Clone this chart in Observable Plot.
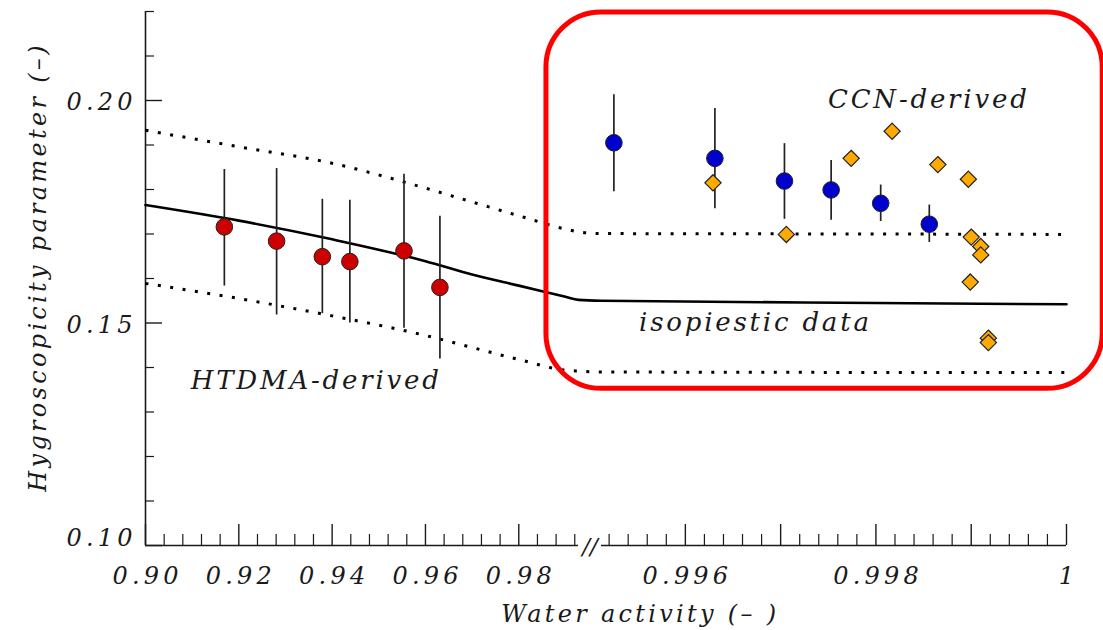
<!DOCTYPE html>
<html>
<head>
<meta charset="utf-8">
<script src="https://cdn.jsdelivr.net/npm/d3@7"></script>
<script src="https://cdn.jsdelivr.net/npm/@observablehq/plot@0.6"></script>
<style>
  html, body { margin: 0; padding: 0; background: #fff; }
</style>
</head>
<body>
<div id="chart"></div>
<script>
// ---------- data ----------
// HTDMA-derived (red circles with error bars)
const htdmaX  = [0.9169, 0.9281, 0.9379, 0.9438, 0.9554, 0.9631];
const htdmaY  = [0.1716, 0.1684, 0.1649, 0.1638, 0.1662, 0.1580];
const htdmaLo = [0.1583, 0.1518, 0.1521, 0.1500, 0.1488, 0.1419];
const htdmaHi = [0.1845, 0.1847, 0.1778, 0.1776, 0.1834, 0.1740];

// blue circles with error bars
const blueX  = [0.99525, 0.99631, 0.99704, 0.99753, 0.99805, 0.99856];
const blueY  = [0.1905, 0.1870, 0.1819, 0.1799, 0.1769, 0.1722];
const blueLo = [0.1795, 0.1757, 0.1733, 0.1731, 0.1728, 0.1681];
const blueHi = [0.2013, 0.1982, 0.1903, 0.1865, 0.1810, 0.1765];

// CCN-derived (orange diamonds)
const ccnX = [0.99629, 0.99706, 0.99774, 0.99817, 0.99865, 0.99897, 0.99900, 0.99910, 0.99910, 0.99899, 0.99918, 0.99918];
const ccnY = [0.1815, 0.1699, 0.1870, 0.1931, 0.1856, 0.1823, 0.1693, 0.1672, 0.1653, 0.1592, 0.1466, 0.1456];

// isopiestic curve and its bounds
const curveX = [0.90, 0.92, 0.94, 0.96, 0.97, 0.98, 0.99, 0.9928, 0.99512, 0.998, 1.0];
const isoY   = [0.1765, 0.1730, 0.1688, 0.1639, 0.1609, 0.1584, 0.1559, 0.1552, 0.1550, 0.1545, 0.1542];
const upperY = [0.1933, 0.1896, 0.1859, 0.1803, 0.1772, 0.1741, 0.1711, 0.1705, 0.1701, 0.1700, 0.1699];
const lowerY = [0.1589, 0.1555, 0.1516, 0.1472, 0.1445, 0.1418, 0.1394, 0.1392, 0.1390, 0.1389, 0.1389];

// broken x axis: left segment end, right segment start
const xBreak = [0.9928, 0.99512];
const xDomain = [0.90, 1.0];
const yDomain = [0.10, 0.22];

// ticks
const xMajorLeft  = [0.90, 0.92, 0.94, 0.96, 0.98];
const xLabelsLeft = ["0.90", "0.92", "0.94", "0.96", "0.98"];
const xMajorRight = [0.996, 0.997, 0.998, 0.999, 1.0];
const xLabelRightVals = [0.996, 0.998, 1.0];
const xLabelsRight = ["0.996", "0.998", "1"];
const yMajor = [0.10, 0.15, 0.20];
const yLabels = ["0.10", "0.15", "0.20"];

// annotation texts
const annotations = [
  {x: 0.93628, y: 0.13516, text: "HTDMA-derived"},
  {x: 0.99854, y: 0.19827, text: "CCN-derived"},
  {x: 0.99672, y: 0.14824, text: "isopiestic data"}
];
const xTitle = "Water activity (– )";
const yTitle = "Hygroscopicity parameter (–)";
const breakMark = "//";

// highlighted region (red rounded box)
const box = [{x1: 0.98593, x2: 1.00038, y1: 0.1352, y2: 0.2198}];

// ---------- derived tables ----------
const htdma = htdmaX.map((x, i) => ({x, y: htdmaY[i], lo: htdmaLo[i], hi: htdmaHi[i]}));
const blue = blueX.map((x, i) => ({x, y: blueY[i], lo: blueLo[i], hi: blueHi[i]}));
const ccn = ccnX.map((x, i) => ({x, y: ccnY[i]}));
const curves = curveX.map((x, i) => ({x, iso: isoY[i], up: upperY[i], low: lowerY[i]}));

const isMultiple = (v, start, step) => Math.abs((v - start) / step - Math.round((v - start) / step)) < 1e-6;
const xMinorLeft = d3.range(0, 24).map(i => 0.90 + i * 0.004).filter(v => v <= xBreak[0] && !isMultiple(v, 0.90, 0.02));
const xMinorRight = d3.range(1, 25).map(i => 0.9950 + i * 0.0002).filter(v => v >= xBreak[1] && v < 1.0 - 1e-9 && !isMultiple(v, 0.996, 0.001));
const yMinor = d3.range(1, 13).map(i => 0.10 + i * 0.01).filter(v => !isMultiple(v, 0.10, 0.05) || v > 0.215);

const xLabels = xMajorLeft.map((v, i) => ({v, t: xLabelsLeft[i]}))
  .concat(xLabelRightVals.map((v, i) => ({v, t: xLabelsRight[i]})));
const yLabs = yMajor.map((v, i) => ({v, t: yLabels[i]}));

// ---------- layout ----------
const W = 1103, H = 630;
const mL = 145, mR = 37, mT = 11, mB = 85;
const plotW = W - mL - mR, plotH = H - mT - mB;
const font = "DejaVu Serif";
const ink = "#1a1a1a";
const lsTick = 4.2, lsAnn = 2.8, lsTitle = 3.3;

const chart = Plot.plot({
  width: W, height: H,
  marginLeft: mL, marginRight: mR, marginTop: mT, marginBottom: mB,
  x: {type: "linear", domain: [xDomain[0], xBreak[0], xBreak[1], xDomain[1]],
      range: [mL, 578, 601, W - mR], axis: null},
  y: {domain: yDomain, axis: null},
  style: {background: "#fff", overflow: "visible"},
  marks: [
    // axis lines
    Plot.ruleX([xDomain[0]], {stroke: ink, strokeWidth: 1.6}),
    Plot.ruleY([yDomain[0]], {x1: xDomain[0], x2: xBreak[0], stroke: ink, strokeWidth: 1.6}),
    Plot.ruleY([yDomain[0]], {x1: xBreak[1], x2: xDomain[1], stroke: ink, strokeWidth: 1.6}),
    // x ticks (inward)
    Plot.ruleX(xMajorLeft.concat(xMajorRight), {x: d => d, insetTop: plotH - 21, stroke: ink, strokeWidth: 1.4}),
    Plot.ruleX(xMinorLeft.concat(xMinorRight), {x: d => d, insetTop: plotH - 11, stroke: ink, strokeWidth: 1.2}),
    // y ticks (inward)
    Plot.ruleY(yMajor, {y: d => d, insetRight: plotW - 17, stroke: ink, strokeWidth: 1.4}),
    Plot.ruleY(yMinor, {y: d => d, insetRight: plotW - 9, stroke: ink, strokeWidth: 1.2}),
    // axis break mark
    Plot.text([breakMark], {x: (xBreak[0] + xBreak[1]) / 2, frameAnchor: "bottom", text: d => d, dy: 1,
      fontFamily: font, fontStyle: "italic", fontSize: 23, lineAnchor: "middle", fill: ink}),
    // tick labels
    Plot.text(xLabels, {x: "v", text: "t", frameAnchor: "bottom", dy: 38, dx: lsTick / 2, lineAnchor: "bottom",
      fontFamily: font, fontStyle: "italic", fontSize: 24, fill: ink}),
    Plot.text(yLabs.filter(d => d.v > 0.1), {y: "v", text: "t", frameAnchor: "left", dx: -13 + lsTick, textAnchor: "end",
      lineAnchor: "middle", dy: 2, fontFamily: font, fontStyle: "italic", fontSize: 24, fill: ink}),
    Plot.text(yLabs.filter(d => d.v <= 0.1), {y: "v", text: "t", frameAnchor: "left", dx: -13 + lsTick, textAnchor: "end",
      lineAnchor: "bottom", dy: 0, fontFamily: font, fontStyle: "italic", fontSize: 24, fill: ink}),
    // axis titles
    Plot.text([xTitle], {x: 0.99551, frameAnchor: "bottom", dy: 76, dx: lsTitle / 2, lineAnchor: "bottom", text: d => d,
      fontFamily: font, fontStyle: "italic", fontSize: 24, fill: ink}),
    Plot.text([yTitle], {y: 0.1626, frameAnchor: "left", dx: -100, rotate: -90, textAnchor: "middle", lineAnchor: "bottom", text: d => d,
      fontFamily: font, fontStyle: "italic", fontSize: 24, fill: ink}),
    // curves
    Plot.line(curves, {x: "x", y: "up", curve: "monotone-x", stroke: "#000", strokeWidth: 3, strokeLinecap: "butt", strokeDasharray: "3 9.5"}),
    Plot.line(curves, {x: "x", y: "low", curve: "monotone-x", stroke: "#000", strokeWidth: 3, strokeLinecap: "butt", strokeDasharray: "3 9.5"}),
    Plot.line(curves, {x: "x", y: "iso", curve: "monotone-x", stroke: "#000", strokeWidth: 2.6}),
    // error bars
    Plot.ruleX(htdma, {x: "x", y1: "lo", y2: "hi", stroke: "#222", strokeWidth: 1.7}),
    Plot.ruleX(blue, {x: "x", y1: "lo", y2: "hi", stroke: "#222", strokeWidth: 1.7}),
    // points
    Plot.dot(htdma, {x: "x", y: "y", r: 8.3, fill: "#cc0000", stroke: "#222", strokeWidth: 1}),
    Plot.dot(blue, {x: "x", y: "y", r: 8.3, fill: "#0000cc", stroke: "#222", strokeWidth: 1}),
    Plot.dot(ccn, {x: "x", y: "y", symbol: "diamond2", r: 7.3, fill: "#ffaa00", stroke: "#222", strokeWidth: 1.2}),
    // annotations
    Plot.text(annotations, {x: "x", y: "y", text: "text", lineAnchor: "bottom", dx: lsAnn / 2,
      fontFamily: font, fontStyle: "italic", fontSize: 26, fill: ink}),
    // highlight box
    Plot.rect(box, {x1: "x1", x2: "x2", y1: "y1", y2: "y2", rx: 55, fill: "none", stroke: "#ff0000", strokeWidth: 5})
  ]
});

// letter spacing by text role
const tickSet = new Set(xLabelsLeft.concat(xLabelsRight, yLabels));
const annSet = new Set(annotations.map(d => d.text));
const titleSet = new Set([xTitle, yTitle]);
chart.querySelectorAll("text").forEach(t => {
  const s = t.textContent;
  let ls = null;
  if (tickSet.has(s)) ls = lsTick;
  else if (annSet.has(s)) ls = lsAnn;
  else if (titleSet.has(s)) ls = lsTitle;
  if (ls !== null) t.style.letterSpacing = ls + "px";
});
document.getElementById("chart").appendChild(chart);
</script>
</body>
</html>
